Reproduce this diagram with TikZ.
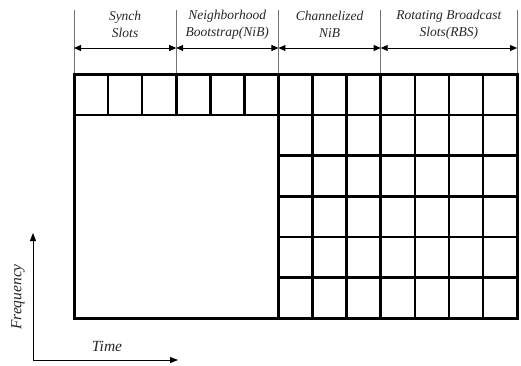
\documentclass[tikz,border=0pt]{standalone}
\usepackage{fontspec}
\setmainfont{Liberation Serif}
\usetikzlibrary{arrows.meta,calc}
\tikzset{
  gridline/.style={line width=2.6pt, line cap=rect},
  guide/.style={draw=black!55, line width=0.8pt},
  span/.style={line width=0.8pt, {Triangle[length=7pt,width=6pt]}-{Triangle[length=7pt,width=6pt]}},
  lbl/.style={font=\itshape\fontsize{13.5}{17}\selectfont, align=center, text=black!85},
  axlbl/.style={font=\itshape\fontsize{15.5}{18}\selectfont, text=black!85},
  axis/.style={line width=0.8pt, -{Triangle[length=8pt,width=6pt]}}
}
\begin{document}
\begin{tikzpicture}[x=1pt,y=-1pt]
\useasboundingbox (0,0) rectangle (521,365);
\def\xo{74}\def\cw{34.08}
% guide lines
\foreach \i/\n in {0/g0,3/g1,6/g2,9/g3,13/g4}{
  \coordinate (\n t) at ({\xo+\i*\cw},10);
  \coordinate (\n b) at ({\xo+\i*\cw},74);
  \coordinate (\n m) at ({\xo+\i*\cw},48);
  \draw[guide] (\n t) -- (\n b);
}
\draw[span] (g0m) -- (g1m);
\draw[span] (g1m) -- (g2m);
\draw[span] (g2m) -- (g3m);
\draw[span] (g3m) -- (g4m);
\node[lbl] (l1) at ($(g0m)!0.5!(g1m)+(0,-23.5)$) {Synch\\Slots};
\node[lbl] (l2) at ($(g1m)!0.5!(g2m)+(0,-23.5)$) {Neighborhood\\Bootstrap(NiB)};
\node[lbl] (l3) at ($(g2m)!0.5!(g3m)+(0,-23.5)$) {Channelized\\NiB};
\node[lbl] (l4) at ($(g3m)!0.5!(g4m)+(0,-23.5)$) {Rotating Broadcast\\Slots(RBS)};
% grid
\foreach \i in {1,...,12}{
  \draw[gridline] ({\xo+\i*\cw},74) -- ({\xo+\i*\cw},115);
}
\foreach \i in {7,...,12}{
  \draw[gridline] ({\xo+\i*\cw},115) -- ({\xo+\i*\cw},318);
}
\draw[gridline] ({\xo+6*\cw},115) -- ({\xo+6*\cw},318);
\draw[gridline] (74,115) -- (517,115);
\foreach \j in {1,...,4}{
  \draw[gridline] ({\xo+6*\cw},{115+\j*40.6}) -- (517,{115+\j*40.6});
}
\draw[gridline, line width=3pt] (74,74) rectangle (517,318);
% axes
\coordinate (o) at (33,360);
\coordinate (fy) at (33,233);
\coordinate (tx) at (178,360);
\draw[axis] (o) -- (fy);
\draw[axis] (o) -- (tx);
\node[axlbl, rotate=90] (freq) at (18,297) {Frequency};
\node[axlbl] (time) at (107,346) {Time};
\end{tikzpicture}
\end{document}
